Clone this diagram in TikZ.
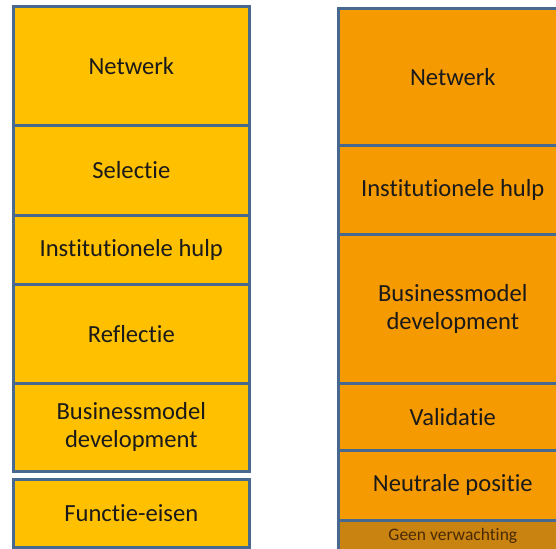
\documentclass[tikz,border=0pt]{standalone}
\usepackage{fontspec}
\setmainfont[Ligatures=NoCommon]{Carlito}
\definecolor{yel}{HTML}{FFC000}
\definecolor{org}{HTML}{F59A00}
\definecolor{dorg}{HTML}{C98310}
\definecolor{edge}{HTML}{47698F}
\definecolor{txt}{HTML}{1A1A1A}
\definecolor{brtxt}{HTML}{4A2A05}
\begin{document}
\begin{tikzpicture}[x=1pt,y=-1pt,
  box/.style={draw=edge, line width=2.6pt, minimum width=#1, inner sep=0pt, anchor=north west, align=center, text=txt, font=\fontsize{24.6}{28}\selectfont},
  lbox/.style={box=236pt, fill=yel},
  rbox/.style={box=229pt, fill=org}]
\useasboundingbox (0,0) rectangle (556,548);
\clip (0,0) rectangle (556,548);
% left column
\node[lbox, minimum height=119pt] (l1) at (12,5) {Netwerk};
\node[lbox, minimum height=90pt] (l2) at (12,124) {Selectie};
\node[lbox, minimum height=69pt] (l3) at (12,214) {Institutionele hulp};
\node[lbox, minimum height=99pt] (l4) at (12,283) {Reflectie};
\node[lbox, minimum height=88pt] (l5) at (12,382) {Businessmodel\\development};
\node[lbox, minimum height=68pt] (l6) at (12,478) {Functie-eisen};
% right column
\node[rbox, minimum height=137pt] (r1) at (337,7) {Netwerk};
\node[rbox, minimum height=89pt] (r2) at (337,144) {Institutionele hulp};
\node[rbox, minimum height=149pt] (r3) at (337,233) {Businessmodel\\development};
\node[rbox, minimum height=67pt] (r4) at (337,382) {Validatie};
\node[rbox, minimum height=70pt] (r5) at (337,449) {Neutrale positie};
\node[box=229pt, fill=dorg, minimum height=31pt, text=brtxt, font=\fontsize{17.5}{20}\selectfont] (r6) at (337,519) {Geen verwachting};
\end{tikzpicture}
\end{document}
